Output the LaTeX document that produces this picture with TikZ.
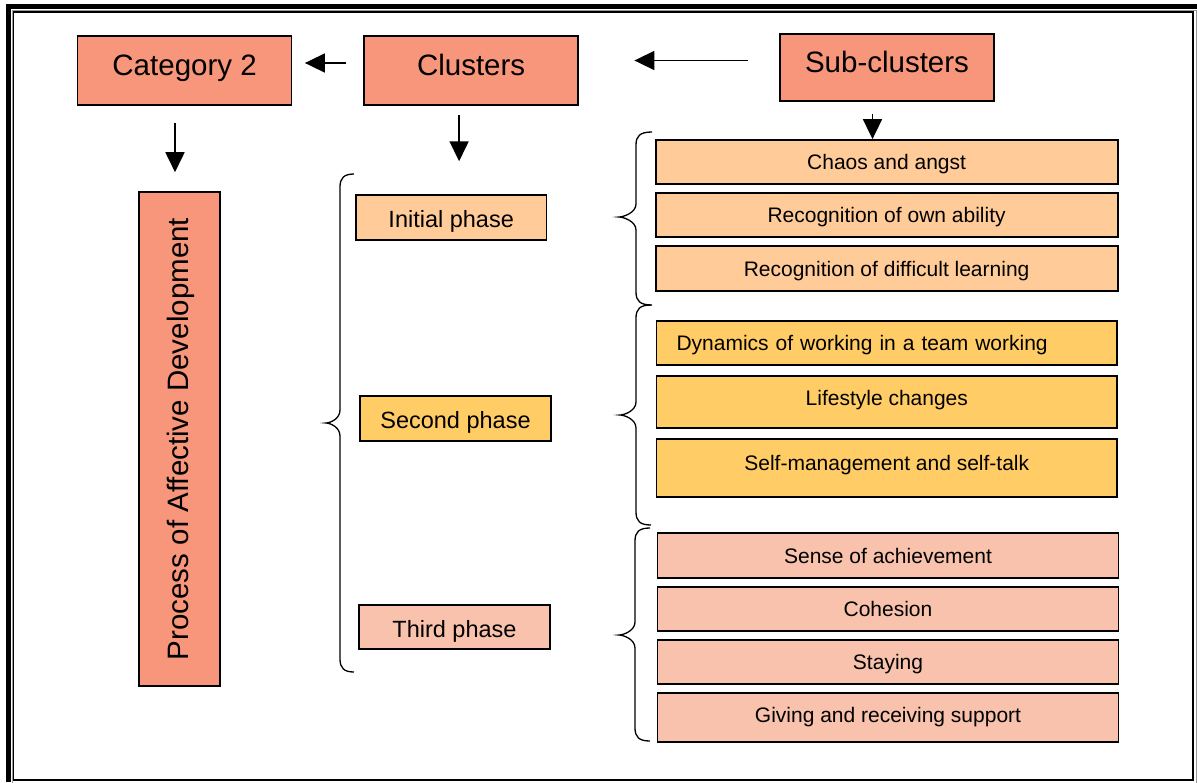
\documentclass[tikz,border=0pt]{standalone}
\usepackage{fontspec}
\setmainfont{Liberation Sans}
\usetikzlibrary{arrows.meta}
\definecolor{salmon}{HTML}{F7967A}
\definecolor{peach}{HTML}{FFCC99}
\definecolor{gold}{HTML}{FFCC66}
\definecolor{pinkthree}{HTML}{F8C2AC}
\newcommand{\mybrace}[6]{\draw[bracestyle] (#1,#4) .. controls ({#2+4},#4) and (#2,{#4+4}) .. (#2,{#4+13}) -- (#2,{#5-13}) .. controls (#2,{#5-4}) and ({#3+4},#5) .. (#3,#5) .. controls ({#3+4},#5) and (#2,{#5+4}) .. (#2,{#5+13}) -- (#2,{#6-13}) .. controls (#2,{#6-4}) and ({#2+4},#6) .. (#1,#6);}
\begin{document}
\begin{tikzpicture}[x=1pt,y=-1pt,
 bigbox/.style={draw=black,line width=1.6pt,fill=salmon,inner sep=0pt,font=\fontsize{29.5}{32}\selectfont,text height=21pt,text depth=12pt,minimum width=214pt,minimum height=69pt},
 phasebox/.style={draw=black,line width=1.5pt,inner sep=0pt,font=\fontsize{23.5}{26}\selectfont,text height=20.5pt,text depth=0pt,minimum width=191pt,minimum height=45pt},
 subbox/.style={draw=black,line width=1.8pt,inner sep=0pt,font=\fontsize{21}{23}\selectfont,text height=15pt,text depth=0pt,minimum width=461pt,minimum height=44pt},
 arr/.style={line width=1.8pt,-{Triangle[length=20pt,width=19pt]}},
 bracestyle/.style={line width=1.3pt}]
\useasboundingbox (0,0) rectangle (1197,782);
\fill[white] (0,0) rectangle (1197,782);
% page border
\fill[black] (6,4) rectangle (1197,8.7);
\fill[black] (6,4) rectangle (11,782);
\draw[black!40,line width=0.8pt] (12,10.3) rectangle (1196,790);
\draw[black,line width=1.2pt] (13.3,12) rectangle (1193,780);
% top boxes
\node[bigbox] (cat) at (184.6,70.5) {Category 2};
\node[bigbox] (clu) at (471.1,70.5) {Clusters};
\node[bigbox,minimum height=67pt] (sub) at (887,67.5) {Sub-clusters};
\node[bigbox,rotate=90,minimum width=494pt,minimum height=81pt,text height=21pt,text depth=4pt] (proc) at (179.5,439) {Process of Affective Development};
% phases
\node[phasebox,fill=peach,minimum width=190.5pt] (ini) at (451.2,217.5) {Initial phase};
\node[phasebox,fill=gold] (sec) at (455.5,418.5) {Second phase};
\node[phasebox,fill=pinkthree,minimum height=44pt] (thi) at (454.5,627) {Third phase};
% sub-cluster boxes
\node[subbox,fill=peach,minimum width=462pt] (chaos) at (886.6,162) {Chaos and angst};
\node[subbox,fill=peach,minimum width=462pt] (own) at (886.6,215) {Recognition of own ability};
\node[subbox,fill=peach,minimum width=462pt,minimum height=45pt] (diff) at (886.6,268.5) {Recognition of difficult learning};
\node[subbox,fill=gold,minimum width=460.5pt,text width=420.5pt,align=left,inner xsep=20pt] (dyn) at (886.8,343) {Dynamics of working in a team working};
\node[subbox,fill=gold,minimum width=460.5pt,minimum height=52pt,text depth=9pt] (life) at (886.8,402) {Lifestyle changes};
\node[subbox,fill=gold,minimum width=460.5pt,minimum height=58pt,text depth=11pt] (self) at (886.8,468) {Self-management and self-talk};
\node[subbox,fill=pinkthree,minimum height=45pt] (sense) at (888,555.5) {Sense of achievement};
\node[subbox,fill=pinkthree] (coh) at (888,609) {Cohesion};
\node[subbox,fill=pinkthree] (stay) at (888,662) {Staying};
\node[subbox,fill=pinkthree,minimum height=49pt,text depth=6pt] (give) at (888,717.5) {Giving and receiving support};
% braces
\mybrace{354}{340}{326}{174}{423}{672}
\mybrace{652}{636}{619}{132}{217}{305}
\mybrace{651}{636}{620}{305}{415}{525}
\mybrace{650}{635}{619}{528}{635}{741}
% arrows
\draw[arr,shorten <=17pt,shorten >=12.5pt] ([yshift=7.5pt]clu.west) -- ([yshift=7.5pt]clu.west -| cat.east);
\draw[arr,shorten <=31pt,shorten >=55.5pt] ([yshift=7pt]sub.west) -- ([yshift=7pt]sub.west -| clu.east);
\draw[arr,shorten <=17pt,shorten >=19pt] ([xshift=-9.6pt]cat.south) -- ([xshift=-9.6pt]cat.south |- proc.east);
\draw[arr,shorten <=9pt,shorten >=33pt] ([xshift=-12pt]clu.south) -- ([xshift=-12pt]clu.south |- ini.north);
\draw[arr,shorten <=12pt] ([xshift=-14.5pt]sub.south) -- ([xshift=-14.5pt]sub.south |- chaos.north);
\end{tikzpicture}
\end{document}
